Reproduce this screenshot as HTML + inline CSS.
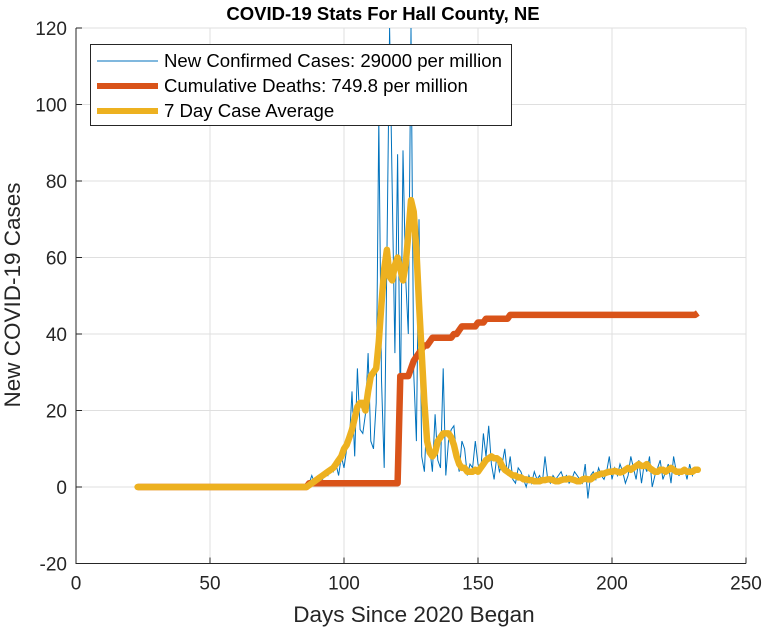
<!DOCTYPE html>
<html><head><meta charset="utf-8"><style>
body{margin:0;background:#fff}
svg{display:block;font-family:"Liberation Sans",Arial,sans-serif}
</style></head><body>
<svg id="chart" width="772" height="630">
<rect width="772" height="630" fill="#fff"/>
<g id="grid"></g>
<g id="series"></g>
<g id="axes"></g>
<text x="383" y="20" text-anchor="middle" font-size="18.5" font-weight="bold" fill="#000">COVID-19 Stats For Hall County, NE</text>
<text x="414" y="622" text-anchor="middle" font-size="22.5" fill="#262626">Days Since 2020 Began</text>
<text transform="translate(20,295) rotate(-90)" text-anchor="middle" font-size="22.5" fill="#262626">New COVID-19 Cases</text>
<g>
<rect x="90.5" y="44.5" width="421" height="81" fill="#fff" stroke="#262626" stroke-width="1"/>
<line x1="97" y1="61" x2="158" y2="61" stroke="#0072BD" stroke-width="1"/>
<text x="164" y="67" font-size="18.6" fill="#000">New Confirmed Cases: 29000 per million</text>
<line x1="97" y1="86" x2="158" y2="86" stroke="#D95319" stroke-width="6"/>
<text x="164" y="92" font-size="18.6" fill="#000">Cumulative Deaths: 749.8 per million</text>
<line x1="97" y1="111" x2="158" y2="111" stroke="#EDB120" stroke-width="6"/>
<text x="164" y="117" font-size="18.6" fill="#000">7 Day Case Average</text>
</g>
</svg>
<script>
const xTicks=[0,50,100,150,200,250];
const yTicks=[-20,0,20,40,60,80,100,120];
const startDay=23;
const cases=[].concat(new Array(64).fill(0),[
1,3,1,2,3,2,4,3,5,4,6,3,8,5,10,
12,25,8,31,15,14,19,35,12,10,
22,96,28,5,60,120,78,35,87,20,
88,55,40,120,30,12,70,8,4,20,
10,4,19,7,5,31,3,12,15,16,
8,4,12,10,3,6,5,12,6,4,
14,8,16,6,2,8,4,6,10,3,
8,2,1,5,4,2,0,3,1,4,
2,3,1,8,2,1,3,2,3,
4,2,3,1,2,4,3,2,1,6,
-3,3,4,2,5,3,2,4,8,2,
5,3,6,4,1,3,8,5,2,7,
1,6,4,8,0,3,5,7,2,4,
6,1,8,4,3,4,5,2,6,3,5,4]);
const average=[].concat(new Array(64).fill(0),[
0.5,1,1.5,2,2.5,3,3.5,4,4.5,5,
6,7,8,10,11,13,15,18,21,22,
22,20,25,29,30,31,38,48,57,62,
55,54,58,60,57,54,58,66,75,72,
62,48,35,22,12,9,8,9,12,13,
14,14,14,13,11,8,6,5,5,4,
4,4,4.5,4,5,6,7,7.5,8,7.5,
7.5,7,5.5,4.5,4,3.5,3,3,2.5,2.5,
2,2,1.8,1.8,1.5,1.5,1.5,1.8,1.8,
2,2,1.8,1.5,1.5,1.8,2,2,2.2,2,
1.8,1.5,1.5,2,2.2,2,2,2.5,3,3.2,
3.5,3.5,3.8,4,4,4.2,4,3.8,4,4.5,
5,4.5,5,5.5,6,5.5,5.5,6,5,4.5,
4,4,4.5,4.5,4,4.5,5,4.5,4,4,
4,4.5,4,4,4,4.5,4.5]);
const deaths=[].concat(new Array(64).fill(0),new Array(34).fill(1),[
29,29,29,29,31,33,34,35,36,37,37,38,39,39,39,39,39,39,39,39,40,40,41,42,42,42,42,42,42,43,43,43,44,44,44,44,44,44,44,44,44],new Array(70).fill(45),[45.5]);

const L=76,R=746,T=28,B=563.5,xMin=0,xMax=250,yMin=-20,yMax=120;
const xs=d=>L+(d-xMin)/(xMax-xMin)*(R-L);
const ys=v=>B-(v-yMin)/(yMax-yMin)*(B-T);
const NS="http://www.w3.org/2000/svg";
const grid=document.getElementById('grid'),axes=document.getElementById('axes'),series=document.getElementById('series');
function mk(tag,attrs,parent){const e=document.createElementNS(NS,tag);for(const k in attrs)e.setAttribute(k,attrs[k]);parent.appendChild(e);return e;}
const bg=mk('rect',{x:L,y:T,width:R-L,height:B-T,fill:'#fff'},grid);


xTicks.forEach(t=>{
 const g=mk('line',{x1:xs(t),x2:xs(t),y1:T,y2:B,stroke:'#dfdfdf','stroke-width':1},grid);
 
 
 const tx=mk('text',{x:xs(t),y:B+26,'text-anchor':'middle','font-size':19,fill:'#262626'},axes);
 tx.textContent=t;
 
 
 mk('line',{x1:xs(t),x2:xs(t),y1:B,y2:B-6,stroke:'#262626'},axes);
});
yTicks.forEach(t=>{
 const g=mk('line',{x1:L,x2:R,y1:ys(t),y2:ys(t),stroke:'#dfdfdf','stroke-width':1},grid);
 
 
 const tx=mk('text',{x:L-9,y:ys(t)+7,'text-anchor':'end','font-size':19,fill:'#262626'},axes);
 tx.textContent=t;
 
 
 mk('line',{x1:L,x2:L+6,y1:ys(t),y2:ys(t),stroke:'#262626'},axes);
});
const frame=mk('path',{d:`M${L},${T}V${B}H${R}`,fill:'none',stroke:'#262626','stroke-width':1},axes);


function pts(arr){return arr.map((v,i)=>xs(startDay+i).toFixed(1)+','+ys(v).toFixed(1)).join(' ');}
const clip=mk('clipPath',{id:'pc'},series);mk('rect',{x:L,y:T,width:R-L,height:B-T},clip);
const c=mk('polyline',{points:pts(cases),fill:'none',stroke:'#0072BD','stroke-width':1,'clip-path':'url(#pc)'},series);


const d=mk('polyline',{points:pts(deaths),fill:'none',stroke:'#D95319','stroke-width':6.5,'stroke-linejoin':'round','clip-path':'url(#pc)'},series);


const a=mk('polyline',{points:pts(average),fill:'none',stroke:'#EDB120','stroke-width':6.5,'stroke-linejoin':'round','stroke-linecap':'round','clip-path':'url(#pc)'},series);


</script>
</body></html>
